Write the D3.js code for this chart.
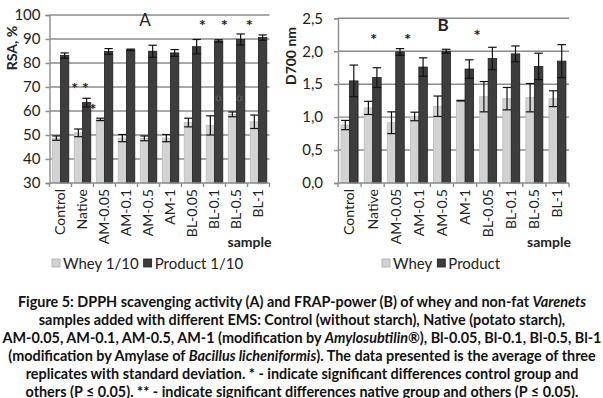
<!DOCTYPE html>
<html>
<head>
<meta charset="utf-8">
<script src="https://cdn.jsdelivr.net/npm/d3@7"></script>
<style>
  html, body { margin: 0; padding: 0; background: #fff; }
  svg { display: block; font-family: Lato, "Open Sans", sans-serif; }
</style>
</head>
<body>
<svg id="fig" width="603" height="398"></svg>
<script>
// samples (same for both panels)
const categories = ["Control", "Native", "AM-0.05", "AM-0.1", "AM-0.5", "AM-1", "BL-0.05", "BL-0.1", "BL-0.5", "BL-1"];

// panel A - DPPH, RSA %
const rsaWhey = [48.7, 50.9, 56.5, 48.7, 48.6, 48.7, 55.2, 54.0, 58.6, 55.5];
const rsaWheyErr = [0.9, 1.6, 0.5, 1.5, 1.0, 1.5, 1.8, 4.0, 1.0, 2.8];
const rsaProduct = [83.1, 63.5, 84.8, 85.5, 84.9, 84.2, 86.8, 89.2, 89.8, 90.6];
const rsaProductErr = [1.1, 1.8, 1.2, 0.3, 2.5, 1.4, 3.0, 0.5, 2.3, 1.1];
const rsaTicks = [30, 40, 50, 60, 70, 80, 90, 100];
// significance marks: category, value level, text, shift from band centre
const rsaMarks = [
  { cat: "Native", v: 70.8, t: "* *", dx: -2.5 },
  { cat: "Native", v: 61.7, t: "*", dx: 10.5 },
  { cat: "BL-0.05", v: 97, t: "*", dx: 10 },
  { cat: "BL-0.1", v: 97, t: "*", dx: 10 },
  { cat: "BL-0.5", v: 97, t: "*", dx: 13 },
  { cat: "BL-0.1", v: 65.3, t: "*", dx: 4 },
  { cat: "BL-0.5", v: 65.3, t: "*", dx: 3 }
];

// panel B - FRAP, D700 nm
const frapWhey = [0.88, 1.14, 0.915, 1.01, 1.165, 1.25, 1.31, 1.28, 1.295, 1.28];
const frapWheyErr = [0.07, 0.10, 0.165, 0.065, 0.155, 0.005, 0.23, 0.17, 0.215, 0.12];
const frapProduct = [1.55, 1.60, 1.99, 1.76, 2.00, 1.73, 1.89, 1.96, 1.77, 1.85];
const frapProductErr = [0.24, 0.15, 0.05, 0.14, 0.03, 0.14, 0.17, 0.12, 0.20, 0.25];
const frapTicks = [0, 0.5, 1.0, 1.5, 2.0, 2.5];
const frapMarks = [
  { cat: "Native", v: 2.22, t: "*", dx: 1 },
  { cat: "AM-0.05", v: 2.22, t: "*", dx: 12 },
  { cat: "AM-1", v: 2.29, t: "*", dx: 12 }
];

const svg = d3.select("#fig");
const LIGHT = "#d2d2d2", DARK = "#3d3d3d", GRID = "#8c8c8c";

function panel(o) {
  const x = d3.scaleBand().domain(categories).range([o.x0, o.x1]);
  const y = d3.scaleLinear().domain(o.domain).range([o.y1, o.y0]);
  const bw = o.barW;
  const g = svg.append("g");

  // gridlines
  g.append("g").selectAll("line").data(o.ticks.slice(1)).join("line")
    .attr("x1", o.x0).attr("x2", o.x1)
    .attr("y1", d => y(d)).attr("y2", d => y(d))
    .attr("stroke", GRID).attr("stroke-width", 1.4);

  // y axis
  const ya = g.append("g").attr("transform", `translate(${o.x0},0)`)
    .call(d3.axisLeft(y).tickValues(o.ticks).tickFormat(o.fmt).tickSize(4).tickPadding(o.pad));
  ya.select(".domain").attr("stroke", GRID).attr("stroke-width", 1.4);
  ya.selectAll(".tick line").attr("stroke", GRID).attr("stroke-width", 1.4);
  ya.selectAll("text").attr("font-size", 15).attr("fill", "#222").attr("font-family", "Lato");

  const series = [
    { vals: o.whey, errs: o.wheyErr, fill: LIGHT, stroke: "#bdbdbd", off: -bw },
    { vals: o.prod, errs: o.prodErr, fill: DARK, stroke: "#1e1e1e", off: 0 }
  ];
  series.forEach(s => {
    const cx = i => x(categories[i]) + x.bandwidth() / 2 + s.off;
    g.append("g").selectAll("rect").data(s.vals).join("rect")
      .attr("x", (d, i) => cx(i)).attr("width", bw)
      .attr("y", d => y(d)).attr("height", d => y(o.domain[0]) - y(d))
      .attr("fill", s.fill).attr("stroke", s.stroke).attr("stroke-width", 0.8);
    const eb = g.append("g").attr("stroke", "#111").attr("stroke-width", 1.2);
    s.vals.forEach((d, i) => {
      const mx = cx(i) + bw / 2, e = s.errs[i];
      eb.append("line").attr("x1", mx).attr("x2", mx).attr("y1", y(d - e)).attr("y2", y(d + e));
      [d - e, d + e].forEach(v => eb.append("line")
        .attr("x1", mx - bw / 2).attr("x2", mx + bw / 2).attr("y1", y(v)).attr("y2", y(v)));
    });
  });

  // x axis line + boundary ticks
  g.append("line").attr("x1", o.x0).attr("x2", o.x1).attr("y1", o.y1).attr("y2", o.y1)
    .attr("stroke", GRID).attr("stroke-width", 1.4);
  const bounds = categories.map(c => x(c)).concat([o.x1]);
  g.append("g").selectAll("line").data(bounds).join("line")
    .attr("x1", d => d).attr("x2", d => d).attr("y1", o.y1).attr("y2", o.y1 + 4)
    .attr("stroke", GRID).attr("stroke-width", 1.4);
  g.append("g").selectAll("text").data(categories).join("text")
    .attr("transform", d => `translate(${x(d) + x.bandwidth() / 2},${o.y1 + 6}) rotate(-90)`)
    .attr("text-anchor", "end").attr("dy", "0.35em")
    .attr("font-size", 14).attr("fill", "#222").text(d => d);

  // significance marks
  g.append("g").selectAll("text").data(o.marks).join("text")
    .attr("x", d => x(d.cat) + x.bandwidth() / 2 + d.dx)
    .attr("y", d => y(d.v) + 8.5)
    .attr("text-anchor", "middle").attr("font-size", 16).attr("fill", "#111")
    .attr("stroke", "#999").attr("stroke-width", 0.6).attr("paint-order", "stroke")
    .text(d => d.t);

  // titles
  g.append("text").attr("x", o.titleX).attr("y", o.titleY).attr("text-anchor", "middle")
    .attr("font-size", 17).attr("font-weight", o.titleBold ? "bold" : "normal").attr("fill", "#222")
    .text(o.title);
  g.append("text").attr("transform", `translate(${o.yLabX},${o.yLabY}) rotate(-90)`)
    .attr("text-anchor", "middle").attr("dy", "0.35em")
    .attr("font-size", 14).attr("font-weight", "bold").attr("fill", "#222").text(o.yLabel);
  g.append("text").attr("x", o.x1 + 2).attr("y", 247).attr("text-anchor", "end")
    .attr("font-size", 14).attr("font-weight", "bold").attr("fill", "#222").text("sample");

  // legend
  let lx = o.legX;
  o.legend.forEach((name, k) => {
    g.append("rect").attr("x", lx).attr("y", 259).attr("width", 8).attr("height", 8)
      .attr("fill", k ? DARK : LIGHT).attr("stroke", k ? "#1e1e1e" : "#aaa").attr("stroke-width", 0.8);
    const t = g.append("text").attr("x", lx + 11).attr("y", 268.5)
      .attr("font-size", 15).attr("fill", "#222").text(name);
    lx += 11 + t.node().getComputedTextLength() + 5;
  });
}

panel({
  x0: 49.5, x1: 269.5, y0: 15, y1: 183, domain: [30, 100], ticks: rsaTicks, fmt: d3.format("d"), pad: 5,
  barW: 8.3, whey: rsaWhey, wheyErr: rsaWheyErr, prod: rsaProduct, prodErr: rsaProductErr,
  marks: rsaMarks, title: "A", titleX: 145, titleY: 26, titleBold: false,
  yLabel: "RSA, %", yLabX: 12, yLabY: 48, legX: 52, legend: ["Whey 1/10", "Product 1/10"]
});

panel({
  x0: 338, x1: 569, y0: 18.3, y1: 183, domain: [0, 2.5], ticks: frapTicks,
  fmt: d => d3.format(".1f")(d).replace(".", ","), pad: 11,
  barW: 8.5, whey: frapWhey, wheyErr: frapWheyErr, prod: frapProduct, prodErr: frapProductErr,
  marks: frapMarks, title: "B", titleX: 443, titleY: 31, titleBold: true,
  yLabel: "D700 nm", yLabX: 291, yLabY: 56, legX: 382, legend: ["Whey", "Product"]
});

// caption
const caption = [
  [["Figure 5: DPPH scavenging activity (A) and FRAP-power (B) of whey and non-fat ", 0], ["Varenets", 1]],
  [["samples added with different EMS: Control (without starch), Native (potato starch),", 0]],
  [["AM-0.05, AM-0.1, AM-0.5, AM-1 (modification by ", 0], ["Amylosubtilin", 1], ["®), Bl-0.05, Bl-0.1, Bl-0.5, Bl-1", 0]],
  [["(modification by Amylase of ", 0], ["Bacillus licheniformis", 1], ["). The data presented is the average of three", 0]],
  [["replicates with standard deviation. * - indicate significant differences control group and", 0]],
  [["others (P ≤ 0.05). ** - indicate significant differences native group and others (P ≤ 0.05).", 0]]
];
const cap = svg.append("g").attr("font-weight", "bold").attr("fill", "#111").attr("font-size", 12);
const lines = caption.map((parts, i) => {
  const t = cap.append("text").attr("x", 302).attr("y", 306.5 + i * 18).attr("text-anchor", "middle");
  parts.forEach(([s, it]) => t.append("tspan").attr("font-style", it ? "italic" : "normal").text(s));
  return t;
});
// fit the longest line to the width seen in the figure
const w4 = lines[3].node().getComputedTextLength();
cap.attr("font-size", 12 * 588 / w4);
</script>
</body>
</html>
